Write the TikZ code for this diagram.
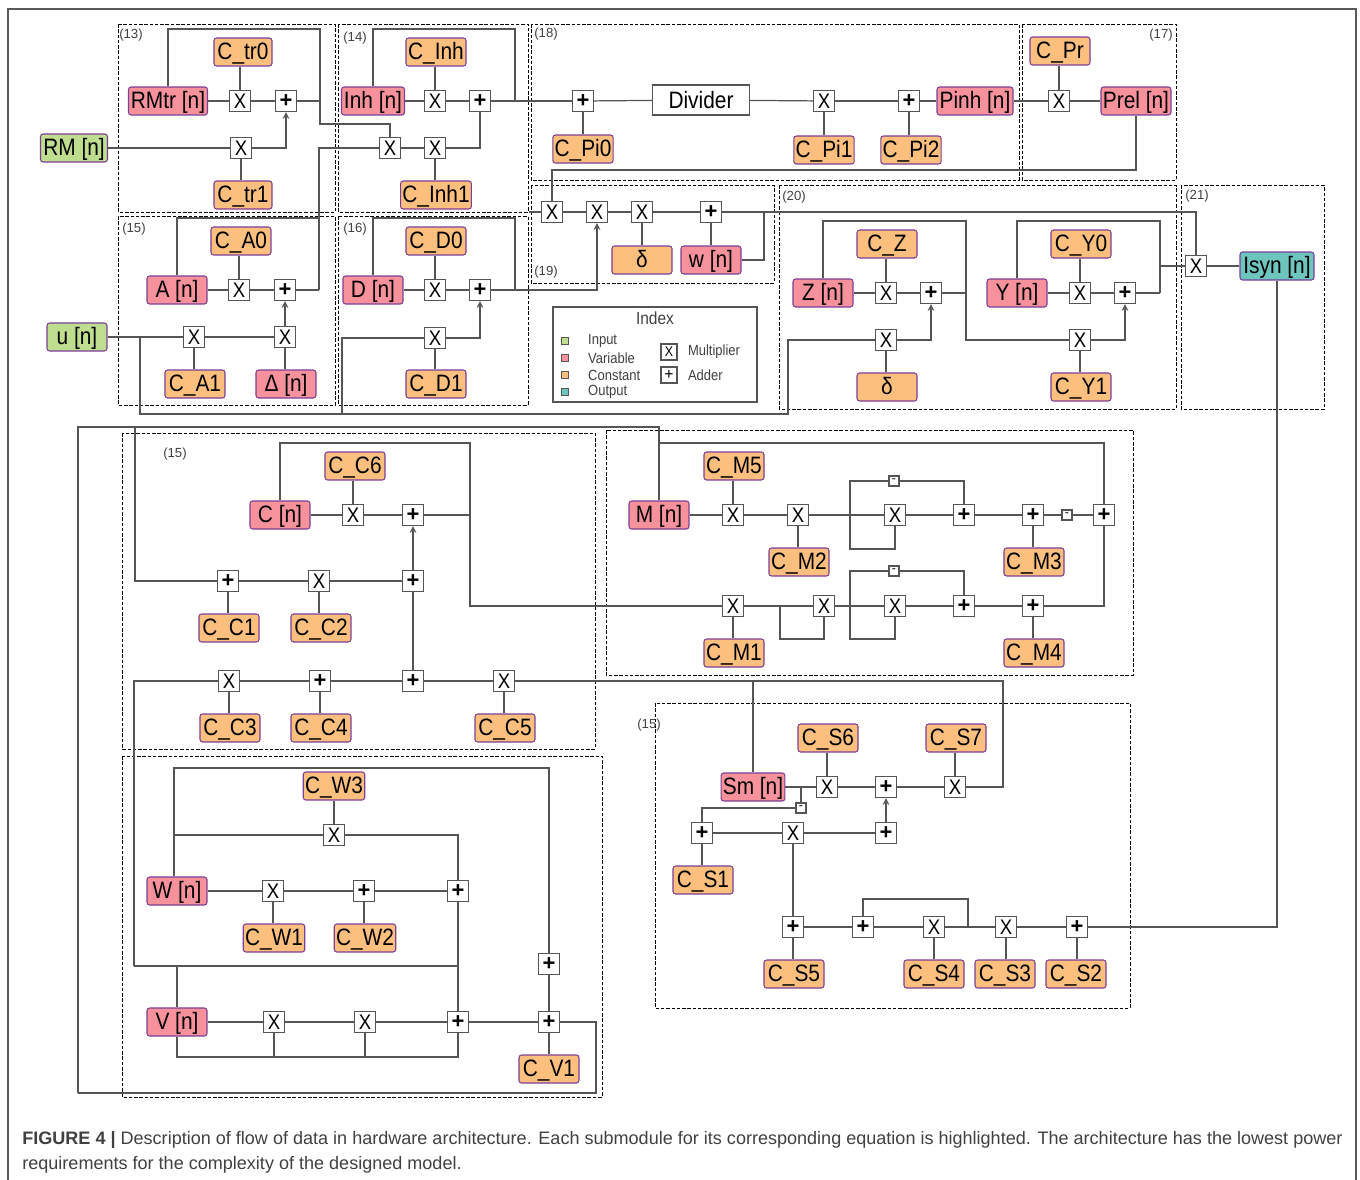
\documentclass[tikz,border=0pt]{standalone}
\usepackage{fontspec}
\setmainfont{Liberation Sans}
\newfontfamily\cellfont[FakeStretch=0.88]{Liberation Sans}
\usepackage{xcolor}
\usetikzlibrary{positioning}
\definecolor{vizInput}{HTML}{BEDD8E}
\definecolor{vizVariable}{HTML}{F7929D}
\definecolor{vizConstant}{HTML}{FCBF7E}
\definecolor{vizOutput}{HTML}{6CC6BE}
\definecolor{vizEdge}{HTML}{7B3F98}
\definecolor{vizWire}{HTML}{555555}
\tikzset{
  cell/.style={draw=vizEdge, rounded corners=1.5pt, line width=0.6pt, minimum width=1.2cm, minimum height=0.56cm, inner xsep=1pt, inner ysep=0pt, text height=9.6pt, text depth=1pt, font=\cellfont\fontsize{13.5}{15}\selectfont},
  inp/.style={cell, fill=vizInput},
  var/.style={cell, fill=vizVariable},
  cst/.style={cell, fill=vizConstant},
  outp/.style={cell, fill=vizOutput},
  unit/.style={draw=vizWire, fill=white, line width=0.8pt, minimum size=0.42cm, inner sep=0pt, font=\cellfont\fontsize{12}{12}\selectfont},
  adder/.style={unit, font=\bfseries\fontsize{12.5}{12.5}\selectfont},
  subunit/.style={unit, minimum size=0.2cm, font=\fontsize{7}{7}\selectfont},
  region/.style={draw=black, dashed, line width=0.5pt, dash pattern=on 2pt off 1pt},
  wire/.style={draw=vizWire, line width=0.7pt},
  feed/.style={wire, -stealth},
  eqn/.style={inner sep=0pt, text=black!75, font=\fontsize{7.5}{9}\selectfont},
  key/.style={inner sep=0pt, text=black!75, font=\cellfont\fontsize{8.4}{10}\selectfont}
}

\begin{document}
\begin{tikzpicture}[x=0.02cm, y=-0.02cm]
  \useasboundingbox (0,0) rectangle (1360,1180);
  \draw[black!65, line width=0.8pt] (8,1180) -- (8,9) -- (1356,9) -- (1356,1180);

  \draw[region] (118,24) rectangle (335,212);
  \draw[region] (338,24) rectangle (528,212);
  \draw[region] (531,24) rectangle (1019,180);
  \draw[region] (1022,24) rectangle (1176,180);
  \draw[region] (118,216) rectangle (335,405);
  \draw[region] (338,216) rectangle (528,405);
  \draw[region] (531,185) rectangle (774,283);
  \draw[region] (779,185) rectangle (1176,409);
  \draw[region] (1181,185) rectangle (1324,409);
  \draw[region] (122,433) rectangle (595,749);
  \draw[region] (606,430) rectangle (1133,675);
  \draw[region] (655,703) rectangle (1130,1008);
  \draw[region] (122,756) rectangle (602,1097);

  \node[eqn] (eq13) at (131,35) {(13)};
  \node[eqn] (eq14) at (355,38) {(14)};
  \node[eqn] (eq18) at (546,34) {(18)};
  \node[eqn] (eq17) at (1161,35) {(17)};
  \node[eqn] (eq15a) at (134,229) {(15)};
  \node[eqn] (eq16) at (355,229) {(16)};
  \node[eqn] (eq19) at (546,272) {(19)};
  \node[eqn] (eq20) at (794,197) {(20)};
  \node[eqn] (eq21) at (1197,196) {(21)};
  \node[eqn] (eq15b) at (175,454) {(15)};
  \node[eqn] (eq15c) at (649,725) {(15)};

  \node[inp, minimum width=1.34cm] (RM) at (74,148) {RM [n]};
  \node[var, minimum width=1.58cm] (RMtr) at (168,101) {RMtr [n]};
  \node[cst, minimum width=1.16cm] (Ctr0) at (243,52) {C\_tr0};
  \node[unit] (m1) at (240,101) {X};
  \node[adder] (a1) at (286,101) {+};
  \node[unit] (m2) at (241,148) {X};
  \node[cst, minimum width=1.16cm] (Ctr1) at (243,195) {C\_tr1};
  \node[var, minimum width=1.26cm] (Inh) at (373,101) {Inh [n]};
  \node[cst] (CInh) at (436,52) {C\_Inh};
  \node[unit] (m3) at (435,101) {X};
  \node[adder] (a2) at (480,101) {+};
  \node[unit] (m4) at (390,148) {X};
  \node[unit] (m5) at (435,148) {X};
  \node[cst, minimum width=1.26cm] (CInh1) at (436,195) {C\_Inh1};
  \node[var] (A) at (177,290) {A [n]};
  \node[cst] (CA0) at (241,241) {C\_A0};
  \node[unit] (m6) at (239,290) {X};
  \node[adder] (a3) at (285,290) {+};
  \node[inp] (u) at (77,337) {u [n]};
  \node[unit] (m7) at (194,337) {X};
  \node[unit] (m8) at (285,337) {X};
  \node[cst] (CA1) at (195,384) {C\_A1};
  \node[var] (Delta) at (286,384) {Δ [n]};
  \node[var] (D) at (373,290) {D [n]};
  \node[cst] (CD0) at (436,241) {C\_D0};
  \node[unit] (m9) at (435,290) {X};
  \node[adder] (a4) at (480,290) {+};
  \node[unit] (m10) at (435,338) {X};
  \node[cst] (CD1) at (436,384) {C\_D1};
  \node[adder] (a5) at (583,101) {+};
  \node[cst] (CPi0) at (583,149) {C\_Pi0};
  \node[draw=vizWire, fill=white, line width=0.8pt, minimum width=1.94cm, minimum height=0.6cm, font=\cellfont\fontsize{13.5}{15}\selectfont] (Div) at (701,100) {Divider};
  \node[unit] (m11) at (824,101) {X};
  \node[cst] (CPi1) at (824,150) {C\_Pi1};
  \node[adder] (a6) at (909,101) {+};
  \node[cst] (CPi2) at (911,150) {C\_Pi2};
  \node[var, minimum width=1.52cm] (Pinh) at (975,101) {Pinh [n]};
  \node[unit] (m12) at (1059,101) {X};
  \node[cst] (CPr) at (1060,51) {C\_Pr};
  \node[var, minimum width=1.4cm] (Prel) at (1136,101) {Prel [n]};
  \node[unit] (m13) at (552,212) {X};
  \node[unit] (m14) at (597,212) {X};
  \node[unit] (m15) at (642,212) {X};
  \node[adder] (a7) at (711,212) {+};
  \node[cst] (delta1) at (642,260) {δ};
  \node[var] (w) at (711,260) {w [n]};
  \node[var] (Z) at (823,293) {Z [n]};
  \node[cst] (CZ) at (887,244) {C\_Z};
  \node[unit] (m16) at (886,293) {X};
  \node[adder] (a8) at (931,293) {+};
  \node[unit] (m17) at (886,340) {X};
  \node[cst] (delta2) at (887,387) {δ};
  \node[var] (Y) at (1017,293) {Y [n]};
  \node[cst] (CY0) at (1081,244) {C\_Y0};
  \node[unit] (m18) at (1080,293) {X};
  \node[adder] (a9) at (1125,293) {+};
  \node[unit] (m19) at (1080,340) {X};
  \node[cst] (CY1) at (1081,387) {C\_Y1};
  \node[unit] (m20) at (1196,266) {X};
  \node[outp, minimum width=1.48cm] (Isyn) at (1277,266) {Isyn [n]};

  \node[var] (C) at (280,515) {C [n]};
  \node[cst] (CC6) at (355,466) {C\_C6};
  \node[unit] (m21) at (353,515) {X};
  \node[adder] (a10) at (413,515) {+};
  \node[adder] (a11) at (228,581) {+};
  \node[unit] (m22) at (319,581) {X};
  \node[adder] (a12) at (413,581) {+};
  \node[cst] (CC1) at (229,628) {C\_C1};
  \node[cst] (CC2) at (321,628) {C\_C2};
  \node[unit] (m23) at (229,681) {X};
  \node[adder] (a13) at (320,681) {+};
  \node[adder] (a14) at (413,681) {+};
  \node[unit] (m24) at (504,681) {X};
  \node[cst] (CC3) at (230,728) {C\_C3};
  \node[cst] (CC4) at (321,728) {C\_C4};
  \node[cst] (CC5) at (505,728) {C\_C5};

  \node[var] (M) at (659,515) {M [n]};
  \node[cst] (CM5) at (734,466) {C\_M5};
  \node[unit] (m25) at (733,515) {X};
  \node[unit] (m26) at (798,515) {X};
  \node[cst] (CM2) at (799,562) {C\_M2};
  \node[unit] (m27) at (895,515) {X};
  \node[adder] (a15) at (964,515) {+};
  \node[adder] (a16) at (1033,515) {+};
  \node[cst] (CM3) at (1034,562) {C\_M3};
  \node[subunit] (s1) at (1067,515) {-};
  \node[adder] (a17) at (1104,515) {+};
  \node[subunit] (s2) at (894,481) {-};
  \node[unit] (m28) at (733,606) {X};
  \node[cst] (CM1) at (734,653) {C\_M1};
  \node[unit] (m29) at (824,606) {X};
  \node[unit] (m30) at (895,606) {X};
  \node[adder] (a18) at (964,606) {+};
  \node[adder] (a19) at (1033,606) {+};
  \node[cst] (CM4) at (1034,653) {C\_M4};
  \node[subunit] (s3) at (894,571) {-};

  \node[var] (Sm) at (753,787) {Sm [n]};
  \node[unit] (m31) at (827,787) {X};
  \node[cst] (CS6) at (828,738) {C\_S6};
  \node[adder] (a20) at (886,787) {+};
  \node[unit] (m32) at (955,787) {X};
  \node[cst] (CS7) at (956,738) {C\_S7};
  \node[subunit] (s4) at (801,808) {-};
  \node[adder] (a21) at (702,833) {+};
  \node[unit] (m33) at (793,833) {X};
  \node[adder] (a22) at (886,833) {+};
  \node[cst] (CS1) at (703,880) {C\_S1};
  \node[adder] (a23) at (793,927) {+};
  \node[adder] (a24) at (863,927) {+};
  \node[unit] (m34) at (934,927) {X};
  \node[unit] (m35) at (1006,927) {X};
  \node[adder] (a25) at (1077,927) {+};
  \node[cst] (CS5) at (794,974) {C\_S5};
  \node[cst] (CS4) at (934,974) {C\_S4};
  \node[cst] (CS3) at (1005,974) {C\_S3};
  \node[cst] (CS2) at (1076,974) {C\_S2};

  \node[cst] (CW3) at (334,786) {C\_W3};
  \node[unit] (m36) at (334,835) {X};
  \node[var] (W) at (177,891) {W [n]};
  \node[unit] (m37) at (273,891) {X};
  \node[adder] (a26) at (364,891) {+};
  \node[adder] (a27) at (458,891) {+};
  \node[cst] (CW1) at (274,938) {C\_W1};
  \node[cst] (CW2) at (365,938) {C\_W2};
  \node[adder] (a28) at (549,964) {+};
  \node[var] (V) at (177,1022) {V [n]};
  \node[unit] (m38) at (274,1022) {X};
  \node[unit] (m39) at (365,1022) {X};
  \node[adder] (a29) at (458,1022) {+};
  \node[adder] (a30) at (549,1022) {+};
  \node[cst] (CV1) at (549,1069) {C\_V1};

  \coordinate (RMtrR) at (320,29);
  \coordinate (RMtrD) at (320,124);
  \coordinate (RMtrJ) at (320,101);
  \coordinate (InhR) at (515,29);
  \coordinate (InhD) at (515,101);
  \coordinate (AR) at (319,218);
  \coordinate (AD) at (319,290);
  \coordinate (DR) at (515,218);
  \coordinate (DD) at (515,290);
  \coordinate (uJ) at (140,337);
  \coordinate (uB) at (140,414);
  \coordinate (uC) at (342,414);
  \coordinate (uE) at (788,414);
  \coordinate (Stub) at (529,212);
  \coordinate (PrelB) at (1136,170);
  \coordinate (wR) at (764,260);
  \coordinate (wU) at (764,212);
  \coordinate (ZR) at (966,221);
  \coordinate (ZD) at (966,293);
  \coordinate (YR) at (1160,221);
  \coordinate (YD) at (1160,293);
  \coordinate (YM) at (1160,266);
  \coordinate (IsynD) at (1277,927);
  \coordinate (CR) at (470,443);
  \coordinate (CD) at (470,515);
  \coordinate (CB) at (470,606);
  \coordinate (TopL) at (78,427);
  \coordinate (TopM) at (659,427);
  \coordinate (TopJ) at (135,427);
  \coordinate (MTop) at (659,443);
  \coordinate (MR) at (1104,443);
  \coordinate (Ms1) at (850,481);
  \coordinate (Ms2) at (964,481);
  \coordinate (MB1) at (850,549);
  \coordinate (Mb1) at (895,549);
  \coordinate (MJ2) at (780,606);
  \coordinate (MB2) at (780,639);
  \coordinate (Mb2) at (824,639);
  \coordinate (Ms3) at (850,571);
  \coordinate (Ms4) at (964,571);
  \coordinate (MB3) at (850,639);
  \coordinate (Mb3) at (895,639);
  \coordinate (MR2) at (1104,606);
  \coordinate (C5R) at (1003,681);
  \coordinate (C5D) at (1003,787);
  \coordinate (SmU) at (753,681);
  \coordinate (SmJ) at (801,787);
  \coordinate (S1L) at (702,808);
  \coordinate (SL) at (863,899);
  \coordinate (SR) at (968,899);
  \coordinate (SJ) at (968,927);
  \coordinate (C3L) at (134,681);
  \coordinate (C3B) at (134,966);
  \coordinate (WM) at (458,966);
  \coordinate (VU) at (177,966);
  \coordinate (WTop) at (174,768);
  \coordinate (WR) at (549,768);
  \coordinate (WJ) at (174,835);
  \coordinate (WE) at (458,835);
  \coordinate (VR) at (458,1057);
  \coordinate (Vm1) at (274,1057);
  \coordinate (Vm2) at (365,1057);
  \coordinate (BotR) at (596,1022);
  \coordinate (BotB) at (596,1093);
  \coordinate (BotL) at (78,1093);

  \draw[wire] (RMtr) |- (RMtrR) -- (RMtrD) -| (m4);
  \draw[wire] (RMtr) -- (m1);
  \draw[wire] (Ctr0.south -| m1) -- (m1);
  \draw[wire] (m1) -- (a1);
  \draw[wire] (a1) -- (RMtrJ);
  \draw[wire] (RM) -- (m2);
  \draw[wire] (Ctr1.north -| m2) -- (m2);
  \draw[feed] (m2) -| (a1);
  \draw[wire] (Inh) |- (InhR) -- (InhD);
  \draw[wire] (Inh) -- (m3);
  \draw[wire] (CInh.south -| m3) -- (m3);
  \draw[wire] (m3) -- (a2);
  \draw[wire] (a2) -- (a5);
  \draw[wire] (CInh1.north -| m5) -- (m5);
  \draw[wire] (m4) -- (m5);
  \draw[wire] (m5) -| (a2);
  \draw[wire] (m4) -| (AD);
  \draw[wire] (A) |- (AR);
  \draw[wire] (A) -- (m6);
  \draw[wire] (CA0.south -| m6) -- (m6);
  \draw[wire] (m6) -- (a3);
  \draw[wire] (a3) -- (AD);
  \draw[wire] (u) -- (m7);
  \draw[wire] (m7) -- (m8);
  \draw[wire] (CA1.north -| m7) -- (m7);
  \draw[wire] (Delta.north -| m8) -- (m8);
  \draw[feed] (m8) -- (a3);
  \draw[wire] (uJ) -- (uB) -- (uE) |- (m17);
  \draw[wire] (uC) |- (m10);
  \draw[wire] (D) |- (DR) -- (DD);
  \draw[wire] (D) -- (m9);
  \draw[wire] (CD0.south -| m9) -- (m9);
  \draw[wire] (m9) -- (a4);
  \draw[feed] (a4) -| (m14);
  \draw[wire] (CD1.north -| m10) -- (m10);
  \draw[feed] (m10) -| (a4);
  \draw[wire] (a5) -- (Div);
  \draw[wire] (CPi0) -- (a5);
  \draw[wire] (Div) -- (m11);
  \draw[wire] (m11) -- (a6);
  \draw[wire] (CPi1) -- (m11);
  \draw[wire] (CPi2.north -| a6) -- (a6);
  \draw[wire] (a6) -- (Pinh);
  \draw[wire] (Pinh) -- (m12);
  \draw[wire] (CPr.south -| m12) -- (m12);
  \draw[wire] (m12) -- (Prel);
  \draw[wire] (Prel) -- (PrelB) -| (m13);
  \draw[wire] (Stub) -- (m13);
  \draw[wire] (m13) -- (m14);
  \draw[wire] (m14) -- (m15);
  \draw[wire] (m15) -- (a7);
  \draw[wire] (delta1) -- (m15);
  \draw[wire] (w) -- (a7);
  \draw[wire] (a7) -| (m20);
  \draw[wire] (w) -- (wR) -- (wU);
  \draw[wire] (Z) |- (ZR) -- (ZD) |- (m19);
  \draw[wire] (Z) -- (m16);
  \draw[wire] (CZ.south -| m16) -- (m16);
  \draw[wire] (m16) -- (a8);
  \draw[wire] (a8) -- (ZD);
  \draw[wire] (delta2.north -| m17) -- (m17);
  \draw[feed] (m17) -| (a8);
  \draw[wire] (Y) |- (YR) -- (YD);
  \draw[wire] (Y) -- (m18);
  \draw[wire] (CY0.south -| m18) -- (m18);
  \draw[wire] (m18) -- (a9);
  \draw[wire] (a9) -- (YD);
  \draw[wire] (CY1.north -| m19) -- (m19);
  \draw[feed] (m19) -| (a9);
  \draw[wire] (YM) -- (m20);
  \draw[wire] (m20) -- (Isyn);
  \draw[wire] (Isyn) -- (IsynD) -- (a25);

  \draw[wire] (C) |- (CR) -- (CB) -- (m28);
  \draw[wire] (C) -- (m21);
  \draw[wire] (CC6.south -| m21) -- (m21);
  \draw[wire] (m21) -- (a10);
  \draw[wire] (a10) -- (CD);
  \draw[feed] (a12) -- (a10);
  \draw[wire] (TopJ) |- (a11);
  \draw[wire] (a11) -- (m22);
  \draw[wire] (m22) -- (a12);
  \draw[wire] (CC1.north -| a11) -- (a11);
  \draw[wire] (CC2.north -| m22) -- (m22);
  \draw[wire] (a14) -- (a12);
  \draw[wire] (C3B) -- (C3L) -- (m23);
  \draw[wire] (m23) -- (a13);
  \draw[wire] (a13) -- (a14);
  \draw[wire] (a14) -- (m24);
  \draw[wire] (CC3.north -| m23) -- (m23);
  \draw[wire] (CC4.north -| a13) -- (a13);
  \draw[wire] (CC5.north -| m24) -- (m24);
  \draw[wire] (m24) -- (C5R) -- (C5D) -- (m32);

  \draw[wire] (BotL) -- (TopL) -- (TopM) -- (M);
  \draw[wire] (MTop) -- (MR) -- (a17);
  \draw[wire] (M) -- (m25);
  \draw[wire] (CM5.south -| m25) -- (m25);
  \draw[wire] (m25) -- (m26);
  \draw[wire] (CM2.north -| m26) -- (m26);
  \draw[wire] (m26) -- (m27);
  \draw[wire] (m27) -- (a15);
  \draw[wire] (a15) -- (a16);
  \draw[wire] (CM3.north -| a16) -- (a16);
  \draw[wire] (a16) -- (s1);
  \draw[wire] (s1) -- (a17);
  \draw[wire] (s2) -- (Ms1) -- (MB1) -- (Mb1) -- (m27);
  \draw[wire] (s2) -- (Ms2) -- (a15);
  \draw[wire] (m28) -- (m29);
  \draw[wire] (CM1.north -| m28) -- (m28);
  \draw[wire] (MJ2) -- (MB2) -- (Mb2) -- (m29);
  \draw[wire] (m29) -- (m30);
  \draw[wire] (s3) -- (Ms3) -- (MB3) -- (Mb3) -- (m30);
  \draw[wire] (s3) -- (Ms4) -- (a18);
  \draw[wire] (m30) -- (a18);
  \draw[wire] (a18) -- (a19);
  \draw[wire] (CM4.north -| a19) -- (a19);
  \draw[wire] (a19) -- (MR2) -- (a17);

  \draw[wire] (SmU) -- (Sm);
  \draw[wire] (Sm) -- (m31);
  \draw[wire] (CS6.south -| m31) -- (m31);
  \draw[wire] (m31) -- (a20);
  \draw[wire] (a20) -- (m32);
  \draw[wire] (CS7.south -| m32) -- (m32);
  \draw[wire] (SmJ) -- (s4);
  \draw[wire] (s4) -- (S1L) -- (a21);
  \draw[wire] (a21) -- (m33);
  \draw[wire] (m33) -- (a22);
  \draw[feed] (a22) -- (a20);
  \draw[wire] (CS1.north -| a21) -- (a21);
  \draw[wire] (m33) -- (a23);
  \draw[wire] (a23) -- (a24);
  \draw[wire] (a24) -- (m34);
  \draw[wire] (m34) -- (m35);
  \draw[wire] (m35) -- (a25);
  \draw[wire] (a24) -- (SL) -- (SR) -- (SJ);
  \draw[wire] (CS5.north -| a23) -- (a23);
  \draw[wire] (CS4) -- (m34);
  \draw[wire] (CS3.north -| m35) -- (m35);
  \draw[wire] (CS2.north -| a25) -- (a25);

  \draw[wire] (W.north -| WTop) -- (WTop) -- (WR) -- (a28);
  \draw[wire] (WJ) -- (m36);
  \draw[wire] (m36) -- (WE) -- (a27);
  \draw[wire] (CW3) -- (m36);
  \draw[wire] (W) -- (m37);
  \draw[wire] (m37) -- (a26);
  \draw[wire] (a26) -- (a27);
  \draw[wire] (CW1.north -| m37) -- (m37);
  \draw[wire] (CW2.north -| a26) -- (a26);
  \draw[wire] (a27) -- (a29);
  \draw[wire] (C3B) -- (WM);
  \draw[wire] (VU) -- (V);
  \draw[wire] (V) -- (m38);
  \draw[wire] (m38) -- (m39);
  \draw[wire] (m39) -- (a29);
  \draw[wire] (a29) -- (a30);
  \draw[wire] (a28) -- (a30);
  \draw[wire] (CV1) -- (a30);
  \draw[wire] (V) |- (VR) -- (a29);
  \draw[wire] (Vm1) -- (m38);
  \draw[wire] (Vm2) -- (m39);
  \draw[wire] (a30) -- (BotR) -- (BotB) -- (BotL);

  \draw[vizWire, line width=1pt] (553,307) rectangle (757,402);
  \node[key, font=\cellfont\fontsize{10}{12}\selectfont] (Index) at (655,318) {Index};
  \node[draw=vizWire, fill=vizInput, minimum size=0.14cm, inner sep=0pt] (k1) at (565,341) {};
  \node[draw=vizWire, fill=vizVariable, minimum size=0.14cm, inner sep=0pt] (k2) at (565,358) {};
  \node[draw=vizWire, fill=vizConstant, minimum size=0.14cm, inner sep=0pt] (k3) at (565,375) {};
  \node[draw=vizWire, fill=vizOutput, minimum size=0.14cm, inner sep=0pt] (k4) at (565,392) {};
  \node[key, right=0.38cm of k1] (k1t) {Input};
  \node[key, right=0.38cm of k2] (k2t) {Variable};
  \node[key, right=0.38cm of k3] (k3t) {Constant};
  \node[key, right=0.38cm of k4] (k4t) {Output};
  \node[unit, minimum size=0.32cm, font=\cellfont\fontsize{8}{8}\selectfont] (k5) at (669,352) {X};
  \node[unit, minimum size=0.32cm, font=\fontsize{9}{9}\selectfont] (k6) at (669,375) {+};
  \node[key, right=0.2cm of k5] (k5t) {Multiplier};
  \node[key, right=0.2cm of k6] (k6t) {Adder};

  \node[anchor=north west, inner sep=0pt, align=left, text=black!75, font=\fontsize{10.27}{14.2}\selectfont] (Caption) at (22,1131) {\textbf{FIGURE 4 |} Description of flow of data in hardware architecture. Each submodule for its corresponding equation is highlighted. The architecture has the lowest power\\requirements for the complexity of the designed model.};
\end{tikzpicture}
\end{document}
